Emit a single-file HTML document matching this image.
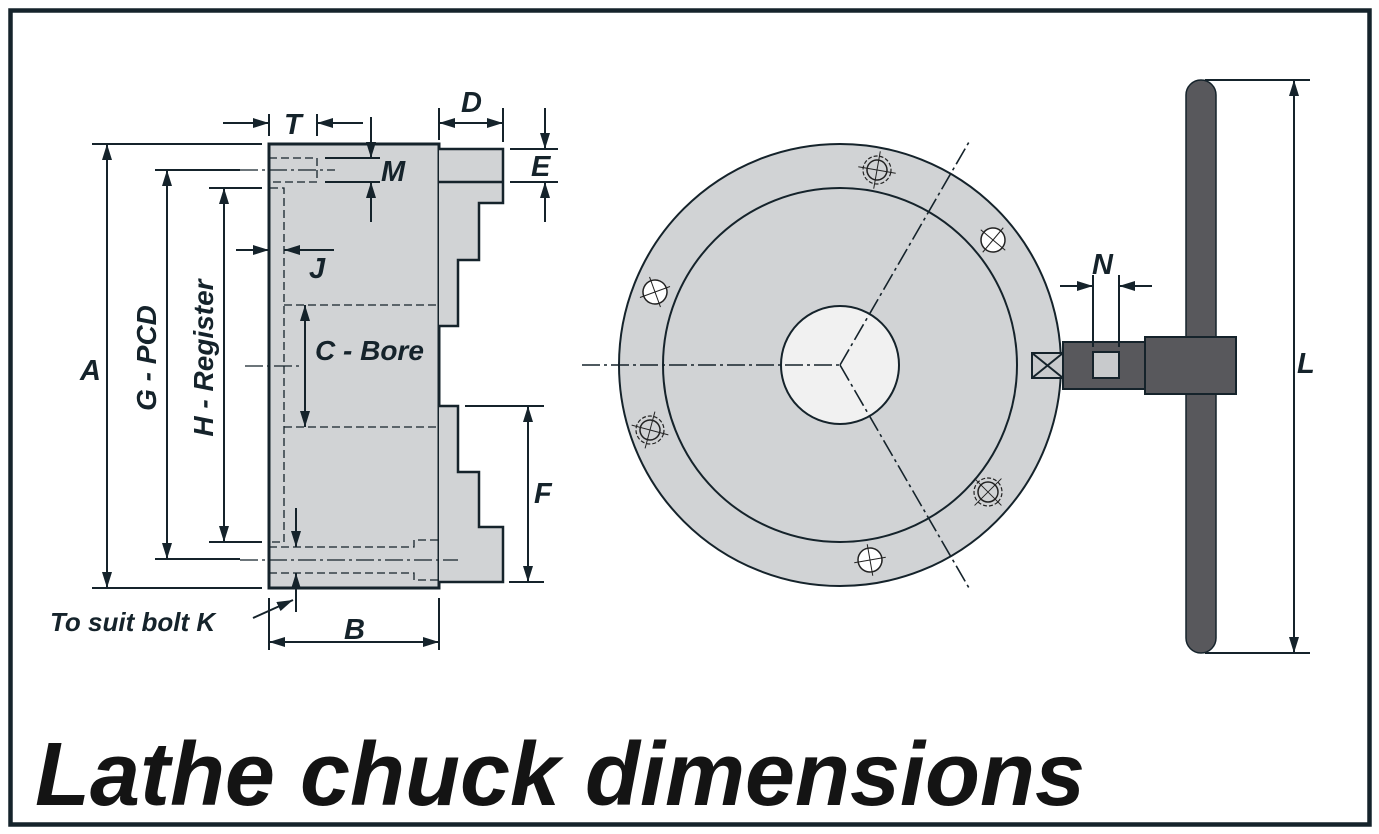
<!DOCTYPE html>
<html><head><meta charset="utf-8"><style>
html,body{margin:0;padding:0;background:#fff;}
svg{display:block;}
text{font-family:"Liberation Sans",Arial,sans-serif;font-weight:bold;font-style:italic;fill:#15232b;}
</style></head><body>
<svg width="1379" height="834" viewBox="0 0 1379 834" xmlns="http://www.w3.org/2000/svg">
<defs>
<marker id="ar" viewBox="0 0 16 10" refX="16" refY="5" markerWidth="16" markerHeight="10" markerUnits="userSpaceOnUse" orient="auto-start-reverse"><path d="M0,0 L16,5 L0,10 z" fill="#15232b"/></marker>
<g id="hw"><circle r="12" fill="#fff" stroke="#222" stroke-width="1.5"/><line x1="-16" y1="0" x2="16" y2="0" stroke="#222" stroke-width="1"/><line x1="0" y1="-16" x2="0" y2="16" stroke="#222" stroke-width="1"/></g>
<g id="hd"><circle r="14" fill="none" stroke="#222" stroke-width="1.2" stroke-dasharray="4,2"/><circle r="10" fill="none" stroke="#222" stroke-width="1.5"/><line x1="-19" y1="0" x2="19" y2="0" stroke="#222" stroke-width="1"/><line x1="0" y1="-19" x2="0" y2="19" stroke="#222" stroke-width="1"/></g>
</defs>
<rect x="10.5" y="10.5" width="1359" height="814" fill="#fff" stroke="#15232b" stroke-width="4.5"/>

<g stroke="#15232b" fill="none" stroke-width="2">
<rect x="269" y="144" width="170" height="444" fill="#d1d3d5" stroke-width="3"/>
<path d="M439,149 H503 V203 H479 V260 H458 V326 H439" fill="#d1d3d5" stroke-width="2.5"/>
<line x1="439" y1="182" x2="503" y2="182" stroke-width="2.5"/>
<path d="M439,406 H458 V472 H479 V527 H503 V582 H439" fill="#d1d3d5" stroke-width="2.5"/>
<g stroke-width="1.3" stroke-dasharray="8,4">
<path d="M269,158 H317 V182 H269"/>
<path d="M270,188 H284 V542 H270"/>
<line x1="284" y1="305" x2="439" y2="305"/>
<line x1="284" y1="427" x2="439" y2="427"/>
<path d="M269,547 H414 V540 H439"/>
<path d="M269,573 H414 V580 H439"/>
</g>
<g stroke-width="1.3" stroke-dasharray="18,4,3,4">
<line x1="240" y1="170" x2="335" y2="170"/>
<line x1="240" y1="560" x2="458" y2="560"/>
<line x1="245" y1="366" x2="300" y2="366"/>
</g>
<line x1="92" y1="144" x2="262" y2="144"/>
<line x1="92" y1="588" x2="262" y2="588"/>
<line x1="155" y1="170" x2="240" y2="170"/>
<line x1="155" y1="559" x2="240" y2="559"/>
<line x1="209" y1="188" x2="262" y2="188"/>
<line x1="209" y1="542" x2="262" y2="542"/>
<line x1="107" y1="144" x2="107" y2="588" marker-start="url(#ar)" marker-end="url(#ar)"/>
<line x1="167" y1="170" x2="167" y2="559" marker-start="url(#ar)" marker-end="url(#ar)"/>
<line x1="224" y1="188" x2="224" y2="542" marker-start="url(#ar)" marker-end="url(#ar)"/>
<line x1="269" y1="114" x2="269" y2="136"/>
<line x1="317" y1="114" x2="317" y2="136"/>
<line x1="223" y1="123" x2="269" y2="123" marker-end="url(#ar)"/>
<line x1="363" y1="123" x2="317" y2="123" marker-end="url(#ar)"/>
<line x1="439" y1="108" x2="439" y2="140"/>
<line x1="503" y1="108" x2="503" y2="142"/>
<line x1="439" y1="123" x2="503" y2="123" marker-start="url(#ar)" marker-end="url(#ar)"/>
<line x1="510" y1="149" x2="558" y2="149"/>
<line x1="510" y1="182" x2="558" y2="182"/>
<line x1="545" y1="108" x2="545" y2="149" marker-end="url(#ar)"/>
<line x1="545" y1="222" x2="545" y2="182" marker-end="url(#ar)"/>
<line x1="325" y1="158" x2="380" y2="158"/>
<line x1="325" y1="182" x2="380" y2="182"/>
<line x1="371" y1="117" x2="371" y2="158" marker-end="url(#ar)"/>
<line x1="371" y1="222" x2="371" y2="182" marker-end="url(#ar)"/>
<line x1="236" y1="250" x2="269" y2="250" marker-end="url(#ar)"/>
<line x1="334" y1="250" x2="284" y2="250" marker-end="url(#ar)"/>
<line x1="305" y1="305" x2="305" y2="427" marker-start="url(#ar)" marker-end="url(#ar)"/>
<line x1="465" y1="406" x2="544" y2="406"/>
<line x1="509" y1="582" x2="544" y2="582"/>
<line x1="528" y1="406" x2="528" y2="582" marker-start="url(#ar)" marker-end="url(#ar)"/>
<line x1="296" y1="508" x2="296" y2="547" marker-end="url(#ar)"/>
<line x1="296" y1="612" x2="296" y2="573" marker-end="url(#ar)"/>
<line x1="253" y1="618" x2="293" y2="600" marker-end="url(#ar)"/>
<line x1="269" y1="598" x2="269" y2="650"/>
<line x1="439" y1="598" x2="439" y2="650"/>
<line x1="269" y1="642" x2="439" y2="642" marker-start="url(#ar)" marker-end="url(#ar)"/>
</g>

<g font-size="29">
<text x="284" y="134">T</text>
<text x="461" y="112">D</text>
<text x="531" y="176">E</text>
<text x="381" y="181">M</text>
<text x="309" y="278">J</text>
<text x="315" y="360" font-size="28">C - Bore</text>
<text x="80" y="380">A</text>
<text x="534" y="503">F</text>
<text x="344" y="639">B</text>
<text x="50" y="631" font-size="26">To suit bolt K</text>
<text transform="translate(156,358) rotate(-90)" text-anchor="middle" font-size="28">G - PCD</text>
<text transform="translate(213,358) rotate(-90)" text-anchor="middle" font-size="28">H - Register</text>
<text x="1092" y="274">N</text>
<text x="1297" y="373">L</text>
</g>

<g stroke="#15232b" fill="none">
<circle cx="840" cy="365" r="221" fill="#d1d3d5" stroke-width="2"/>
<circle cx="840" cy="365" r="177" stroke-width="2"/>
<circle cx="840" cy="365" r="59" fill="#f1f1f1" stroke-width="2"/>
<g stroke-width="1.6" stroke-dasharray="18,4,3,4">
<line x1="582" y1="365" x2="840" y2="365"/>
<line x1="840" y1="365" x2="969" y2="142"/>
<line x1="840" y1="365" x2="969" y2="588"/>
</g>
</g>
<use href="#hd" transform="translate(877,170) rotate(10)"/>
<use href="#hw" transform="translate(993,240) rotate(40)"/>
<use href="#hw" transform="translate(655,292) rotate(-20)"/>
<use href="#hd" transform="translate(650,430) rotate(15)"/>
<use href="#hd" transform="translate(988,492) rotate(45)"/>
<use href="#hw" transform="translate(870,560) rotate(-10)"/>

<g stroke="#15232b" stroke-width="2">
<rect x="1032" y="353" width="31" height="25" fill="#c8cacc"/>
<line x1="1032" y1="353" x2="1063" y2="378"/><line x1="1063" y1="353" x2="1032" y2="378"/>
<rect x="1063" y="342" width="82" height="47" fill="#58585c"/>
<rect x="1093" y="352" width="26" height="26" fill="#c8cacc"/>
<path d="M1186,95 A15,15 0 0 1 1216,95 V638 A15,15 0 0 1 1186,638 Z" fill="#58585c" stroke-width="1.5"/>
<rect x="1145" y="337" width="91" height="57" fill="#58585c"/>
<line x1="1093" y1="275" x2="1093" y2="347"/>
<line x1="1119" y1="275" x2="1119" y2="347"/>
<line x1="1060" y1="286" x2="1093" y2="286" marker-end="url(#ar)"/>
<line x1="1152" y1="286" x2="1119" y2="286" marker-end="url(#ar)"/>
<line x1="1205" y1="80" x2="1310" y2="80"/>
<line x1="1205" y1="653" x2="1310" y2="653"/>
<line x1="1294" y1="80" x2="1294" y2="653" marker-start="url(#ar)" marker-end="url(#ar)"/>
</g>

<text x="35" y="805" font-size="90" textLength="1050" lengthAdjust="spacingAndGlyphs" style="fill:#141414">Lathe chuck dimensions</text>
</svg>
</body></html>
